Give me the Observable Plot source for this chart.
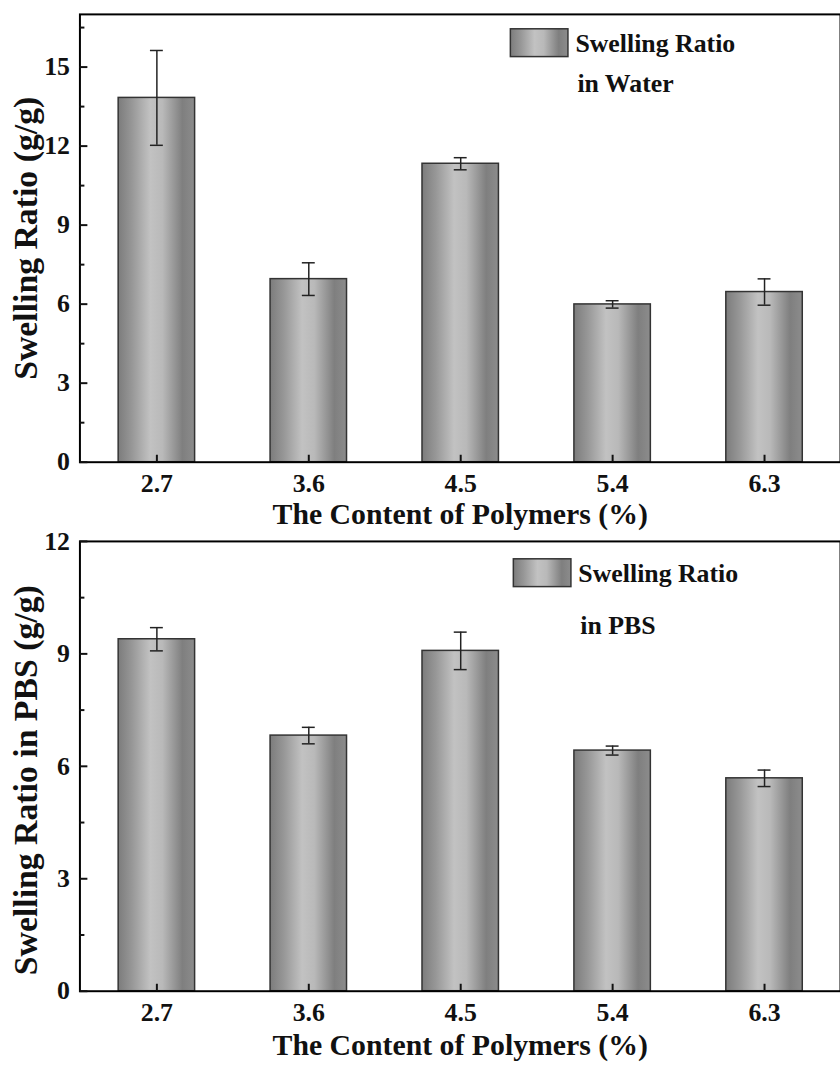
<!DOCTYPE html>
<html><head><meta charset="utf-8">
<script src="https://cdn.jsdelivr.net/npm/d3@7"></script>
<script src="https://cdn.jsdelivr.net/npm/@observablehq/plot@0.6"></script>
<style>
html,body{margin:0;padding:0;background:#fff;overflow:hidden}
#wrap{width:840px;height:1070px;overflow:hidden;position:relative;background:#fff}
#wrap svg{display:block}
</style></head><body><div id="wrap"></div>
<script>
const contents = ["2.7", "3.6", "4.5", "5.4", "6.3"];
const waterRatio = [13.83, 6.95, 11.33, 5.99, 6.46];
const waterError = [1.80, 0.62, 0.23, 0.14, 0.50];
const pbsRatio = [9.39, 6.82, 9.08, 6.42, 5.68];
const pbsError = [0.31, 0.22, 0.50, 0.12, 0.22];
const waterTicks = [0, 3, 6, 9, 12, 15];
const waterMinor = [1.5, 4.5, 7.5, 10.5, 13.5, 16.5];
const pbsTicks = [0, 3, 6, 9, 12];
const pbsMinor = [1.5, 4.5, 7.5, 10.5];
const xTitle = "The Content of Polymers (%)";
const legendLine1 = "Swelling Ratio";

const FONT = "'Liberation Serif', 'Times New Roman', serif";

function panel(o) {
  const rows = contents.map((c, i) => ({c, v: o.values[i], lo: o.values[i] - o.errors[i], hi: o.values[i] + o.errors[i]}));
  const svg = Plot.plot({
    width: 846, height: o.height,
    marginLeft: 80, marginRight: 0, marginTop: o.marginTop, marginBottom: o.marginBottom,
    style: {fontFamily: FONT, fontWeight: "bold", fontSize: "26px", color: "#111", background: "#fff", overflow: "visible"},
    x: {type: "band", domain: contents, paddingInner: 0.5, paddingOuter: 0.25, label: null},
    y: {domain: [0, o.yMax], label: null},
    marks: [
      Plot.barY(rows, {x: "c", y: "v", fill: `url(#${o.gradId})`, stroke: "#333", strokeWidth: 1.5}),
      Plot.ruleX(rows, {x: "c", y1: "lo", y2: "hi", stroke: "#222", strokeWidth: 1.5}),
      Plot.tickY(rows, {x: "c", y: "lo", inset: 32, stroke: "#222", strokeWidth: 1.5}),
      Plot.tickY(rows, {x: "c", y: "hi", inset: 32, stroke: "#222", strokeWidth: 1.5}),
      Plot.frame({stroke: "#000", strokeWidth: 2}),
      Plot.axisY({ticks: o.yTicks, tickSize: -8, tickPadding: 18, tickFormat: d => String(d), strokeWidth: 2, fontSize: 26, label: null}),
      Plot.axisY({ticks: o.yMinor, tickSize: -5, tickPadding: 0, tickFormat: () => "", strokeWidth: 2, label: null}),
      Plot.axisX({tickSize: -7, tickPadding: 19, strokeWidth: 2, fontSize: 26, label: null}),
      Plot.text([xTitle], {frameAnchor: "bottom", dy: o.titleDy, text: d => d, lineAnchor: "middle", textAnchor: "middle", fontSize: 30, fontWeight: "bold", fill: "#111"}),
      Plot.text([o.yLabel], {frameAnchor: "left", dx: -54, dy: o.yLabelDy, rotate: -90, text: d => d, textAnchor: "middle", lineAnchor: "middle", fontSize: 34, fontWeight: "bold", fill: "#111"}),
      Plot.text([legendLine1], {frameAnchor: "top-left", dx: o.legTextDx, dy: o.leg1Dy, text: d => d, textAnchor: "start", lineAnchor: "middle", fontSize: 26, fontWeight: "bold", fill: "#111"}),
      Plot.text([o.legend2], {frameAnchor: "top-left", dx: o.legTextDx + 2, dy: o.leg2Dy, text: d => d, textAnchor: "start", lineAnchor: "middle", fontSize: 26, fontWeight: "bold", fill: "#111"})
    ]
  });
  const s = d3.select(svg);
  const g = s.insert("defs", ":first-child").append("linearGradient")
    .attr("id", o.gradId).attr("x1", 0).attr("x2", 1).attr("y1", 0).attr("y2", 0);
  [[0, "#7c7c7c"], [0.18, "#979797"], [0.42, "#c2c2c2"], [0.58, "#b9b9b9"], [0.84, "#7f7f7f"], [1, "#8c8c8c"]]
    .forEach(([off, col]) => g.append("stop").attr("offset", off).attr("stop-color", col));
  s.append("rect")
    .attr("x", 80 + o.swDx).attr("y", o.marginTop + o.swDy)
    .attr("width", 58).attr("height", 28)
    .attr("fill", `url(#${o.gradId})`).attr("stroke", "#333").attr("stroke-width", 1.5);
  return svg;
}

const wrap = document.getElementById("wrap");
wrap.appendChild(panel({
  values: waterRatio, errors: waterError, yMax: 17, yTicks: waterTicks, yMinor: waterMinor,
  yLabel: "Swelling Ratio (g/g)", legend2: "in Water", gradId: "gradWater",
  height: 535, marginTop: 14, marginBottom: 70, titleDy: 53, yLabelDy: 0,
  swDx: 434, swDy: 15, legTextDx: 499, leg1Dy: 30, leg2Dy: 70
}));
wrap.appendChild(panel({
  values: pbsRatio, errors: pbsError, yMax: 12, yTicks: pbsTicks, yMinor: pbsMinor,
  yLabel: "Swelling Ratio in PBS (g/g)", legend2: "in PBS", gradId: "gradPbs",
  height: 535, marginTop: 10, marginBottom: 72, titleDy: 55, yLabelDy: 14,
  swDx: 437, swDy: 18, legTextDx: 502, leg1Dy: 33, leg2Dy: 85
}));
</script></body></html>
